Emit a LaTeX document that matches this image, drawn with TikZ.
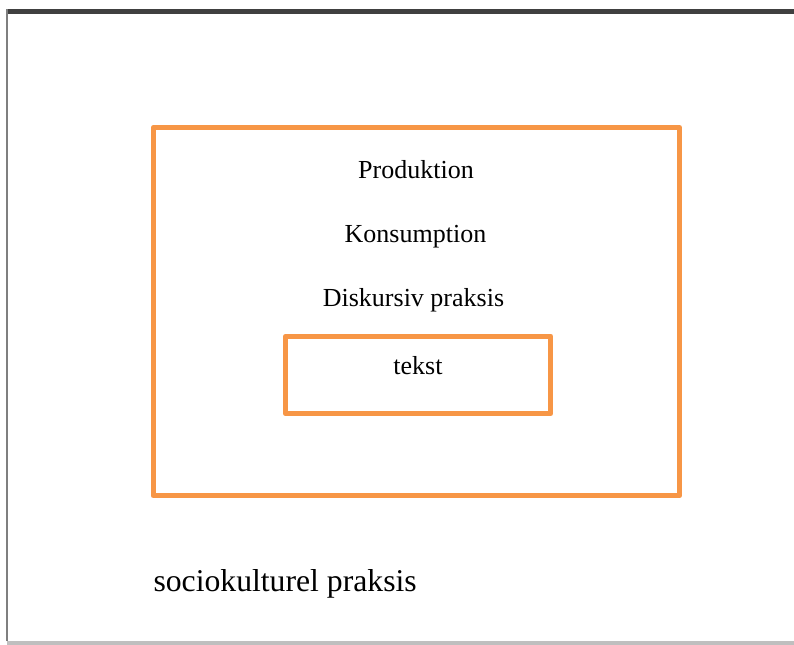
\documentclass[tikz,border=0pt]{standalone}
\usepackage{fontspec}
\setmainfont{Liberation Serif}
\definecolor{boxorange}{HTML}{F79646}
\definecolor{topbar}{HTML}{404040}
\definecolor{leftbar}{HTML}{7F7F7F}
\definecolor{bottombar}{HTML}{BFBFBF}
\tikzset{
  framebox/.style={draw=boxorange, line width=5bp, rectangle, inner sep=0pt, line join=round},
  label26/.style={anchor=base, inner sep=0pt, font=\fontsize{26bp}{30bp}\selectfont},
  label32/.style={anchor=base west, inner sep=0pt, font=\fontsize{31.7bp}{36bp}\selectfont},
}
\begin{document}
\begin{tikzpicture}[x=1bp, y=-1bp]
\useasboundingbox (0,0) rectangle (794,645);
\fill[white] (0,0) rectangle (794,645);
% page edges
\fill[topbar] (6,9) rectangle (794,14);
\fill[leftbar] (6,9) rectangle (8,641);
\fill[bottombar] (7,640.7) rectangle (794,645);
% boxes
\node[framebox, minimum width=526.3bp, minimum height=368.3bp] (outer) at (416.35,311.65) {};
\node[framebox, minimum width=265.5bp, minimum height=77.6bp] (tekstbox) at (418.05,375) {};
% labels
\node[label26] (produktion) at (416,178.3) {Produktion};
\node[label26] (konsumption) at (415.5,242.5) {Konsumption};
\node[label26] (diskursiv) at (413.5,306.7) {Diskursiv praksis};
\node[label26] (tekst) at (418,374.3) {tekst};
\node[label32] (socio) at (153.3,591) {sociokulturel praksis};
\end{tikzpicture}
\end{document}
